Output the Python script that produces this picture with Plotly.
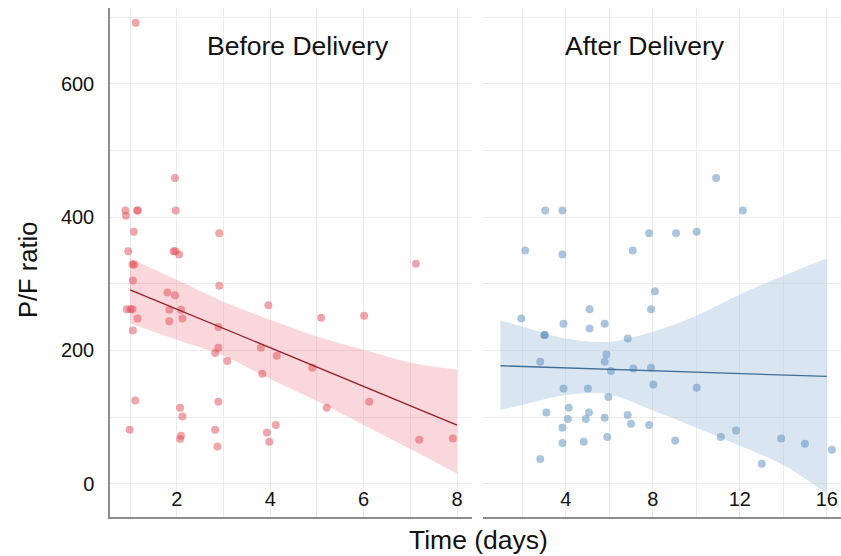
import plotly.graph_objects as go

# ---------------- data ----------------
before_x = [0.90, 0.91, 1.15, 1.17, 1.96, 1.98, 1.08, 2.91, 0.96, 1.93, 1.97, 2.05,
            1.05, 1.09, 1.06, 2.91, 1.80, 1.96, 0.93, 1.01, 1.05, 1.16, 1.84, 2.09,
            1.84, 2.12, 1.06, 2.89, 3.96, 2.89, 2.82, 3.08, 3.80, 4.14, 3.83, 1.11,
            2.07, 2.12, 2.89, 0.99, 2.82, 3.93, 4.12, 2.09, 2.07, 2.87, 3.98, 1.12,
            7.12, 5.09, 6.01, 4.90, 5.21, 6.12, 7.19, 7.91]
before_y = [410, 402, 410, 410, 459, 410, 378, 376, 349, 349, 349, 344,
            329, 329, 305, 297, 287, 283, 262, 262, 262, 248, 261, 261,
            244, 248, 230, 235, 268, 204, 196, 184, 204, 192, 165, 125,
            114, 101, 123, 81, 81, 77, 88, 72, 67, 56, 63, 692,
            330, 249, 252, 174, 114, 123, 66, 68]

after_x = [3.06, 3.85, 2.14, 3.85, 5.10, 1.96, 3.90, 5.10, 5.79, 3.03, 3.03, 2.83,
           5.87, 5.79, 3.90, 5.02, 3.11, 4.14, 4.10, 5.07, 4.92, 3.85, 5.79, 3.85,
           4.83, 2.83, 10.91, 7.83, 9.07, 10.02, 7.08, 8.10, 7.92, 6.85, 6.08, 7.11,
           7.92, 8.03, 10.02, 5.96, 6.85, 7.00, 7.83, 5.91, 9.03, 11.13, 12.14, 11.83,
           13.01, 13.90, 14.99, 16.23]
after_y = [410, 410, 350, 344, 262, 248, 240, 233, 240, 223, 223, 183,
           194, 183, 143, 143, 107, 114, 97, 107, 97, 84, 99, 61,
           63, 37, 459, 376, 376, 378, 350, 289, 262, 218, 169, 173,
           174, 149, 144, 130, 103, 90, 88, 70, 65, 70, 410, 80,
           30, 68, 60, 51]

# fitted lines and their confidence bands
before_fit_x = [1, 8]
before_fit_y = [291, 88]
before_band_x = [1, 2, 3, 4, 5, 6, 7, 8]
before_band_upper = [338, 306, 273, 246, 221, 201, 182, 171]
before_band_lower = [241, 216, 192, 157, 124, 88, 52, 15]

after_fit_x = [1, 16]
after_fit_y = [177, 161]
after_band_x = [1, 2, 4, 6, 8, 10, 12, 14, 16]
after_band_upper = [245, 236, 218, 213, 228, 252, 284, 312, 338]
after_band_lower = [111, 118, 133, 134, 110, 84, 57, 28, -15]

y_ticks = [0, 200, 400, 600]
before_x_ticks = [2, 4, 6, 8]
after_x_ticks = [4, 8, 12, 16]
panel_titles = ["Before Delivery", "After Delivery"]
x_title = "Time (days)"
y_title = "P/F ratio"

# ---------------- styles ----------------
FONT = "Liberation Sans, Arial, Helvetica, sans-serif"
GRID = "#ebebeb"
AXLINE = "#8c8c8c"
RED_PT = "rgba(225,75,85,0.5)"
RED_LINE = "rgb(150,30,40)"
RED_BAND = "rgba(240,140,148,0.35)"
BLUE_PT = "rgba(90,140,190,0.5)"
BLUE_LINE = "rgb(65,110,150)"
BLUE_BAND = "rgba(180,205,230,0.5)"

fig = go.Figure()


def add_panel(xs, ys, fx, fy, bx, bu, bl, pt, ln, band, xa, ya):
    fig.add_trace(go.Scatter(x=bx, y=bl, mode="lines", line=dict(width=0, shape="spline"),
                             hoverinfo="skip", xaxis=xa, yaxis=ya))
    fig.add_trace(go.Scatter(x=bx, y=bu, mode="lines", line=dict(width=0, shape="spline"),
                             fill="tonexty", fillcolor=band, hoverinfo="skip",
                             xaxis=xa, yaxis=ya))
    fig.add_trace(go.Scatter(x=xs, y=ys, mode="markers",
                             marker=dict(size=8, color=pt, line=dict(width=0)),
                             xaxis=xa, yaxis=ya))
    fig.add_trace(go.Scatter(x=fx, y=fy, mode="lines", line=dict(color=ln, width=1.3),
                             xaxis=xa, yaxis=ya))


add_panel(before_x, before_y, before_fit_x, before_fit_y, before_band_x,
          before_band_upper, before_band_lower, RED_PT, RED_LINE, RED_BAND, "x", "y")
add_panel(after_x, after_y, after_fit_x, after_fit_y, after_band_x,
          after_band_upper, after_band_lower, BLUE_PT, BLUE_LINE, BLUE_BAND, "x2", "y2")

# page body margin is removed in post_script, so page pixels == figure pixels
W, H = 841, 556
L, R, T = 110, 0, 8
PLOT_BOTTOM = 517
B = H - PLOT_BOTTOM
pw = W - L - R
ph = H - T - B


def px_x(p):
    return (p - L) / pw


def px_y(p):
    return (PLOT_BOTTOM - p) / ph


xcommon = dict(showgrid=True, gridcolor=GRID, gridwidth=1, zeroline=False,
               showline=True, linecolor=AXLINE, linewidth=1.5, ticks="",
               ticklabelposition="inside", ticklabelstandoff=8,
               tickfont=dict(size=20, color="#111"),
               tickmode="array", automargin=False)
ycommon = dict(range=[-50, 714], showgrid=True, gridcolor=GRID, gridwidth=1,
               zeroline=False, ticks="", tickmode="array", tickvals=y_ticks,
               automargin=False,
               minor=dict(tickmode="linear", tick0=0, dtick=100, showgrid=True,
                          gridcolor=GRID, gridwidth=1))

fig.update_layout(
    width=W, height=H,
    margin=dict(l=L, r=R, t=T, b=B, autoexpand=False),
    plot_bgcolor="white", paper_bgcolor="white",
    showlegend=False,
    font=dict(family=FONT, size=20, color="#111"),
    xaxis=dict(domain=[0, px_x(472)], range=[0.57, 8.32], tickvals=before_x_ticks,
               minor=dict(tickmode="linear", tick0=0, dtick=1, showgrid=True,
                          gridcolor=GRID, gridwidth=1),
               anchor="y", **xcommon),
    xaxis2=dict(domain=[px_x(483), 1], range=[0.2, 16.65], tickvals=after_x_ticks,
                minor=dict(tickmode="linear", tick0=0, dtick=2, showgrid=True,
                           gridcolor=GRID, gridwidth=1),
                anchor="y2", **xcommon),
    yaxis=dict(anchor="x", showline=True, linecolor=AXLINE, linewidth=1.5,
               tickfont=dict(size=20, color="#111"), ticklabelstandoff=10, **ycommon),
    yaxis2=dict(anchor="x2", matches="y", showline=False, showticklabels=False, **ycommon),
)

annos = [
    dict(text=panel_titles[0], x=px_x(298), y=px_y(46), font=dict(size=26.5, color="#111")),
    dict(text=panel_titles[1], x=px_x(645), y=px_y(46), font=dict(size=26.5, color="#111")),
    dict(text=x_title, x=px_x(478), y=px_y(540), font=dict(size=26.5, color="#111")),
    dict(text=y_title, x=px_x(28), y=px_y(270), textangle=-90, font=dict(size=25.5, color="#111")),
]
for a in annos:
    fig.add_annotation(xref="paper", yref="paper", showarrow=False,
                       xanchor="center", yanchor="middle", **a)

fig.write_html(
    "out.html",
    config={"displayModeBar": False},
    post_script="document.body.style.margin='0';document.body.style.overflow='hidden';",
)
